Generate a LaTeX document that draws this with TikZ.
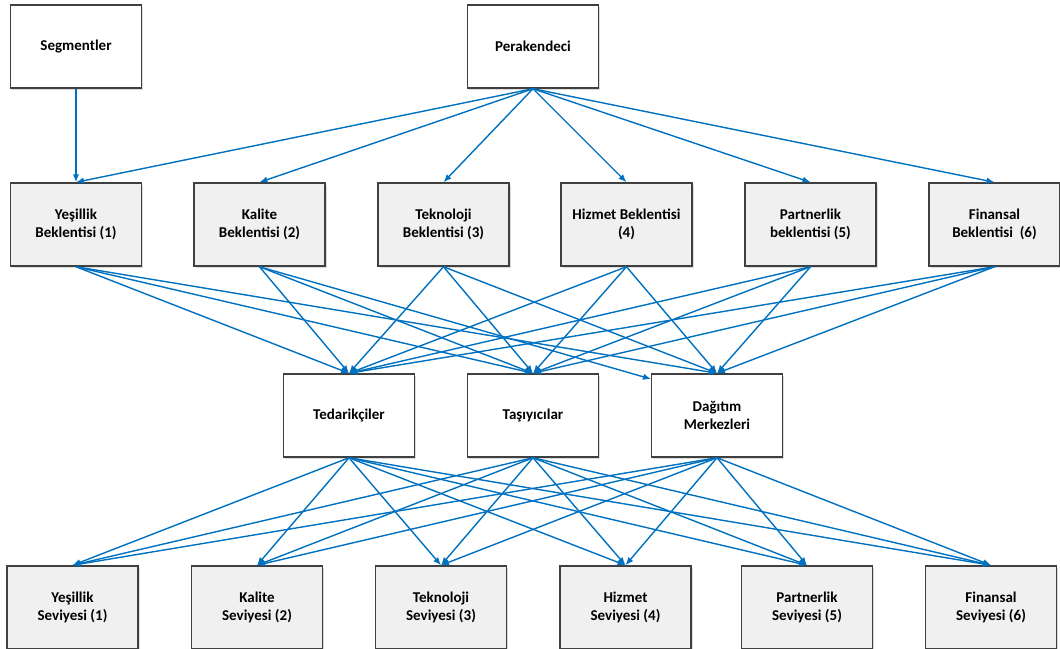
\documentclass[tikz,border=0pt]{standalone}
\usepackage{fontspec}
\setmainfont{Carlito}
\usetikzlibrary{arrows.meta,shadows}
\definecolor{arrowblue}{HTML}{0070C0}
\definecolor{boxgray}{HTML}{F0F0F0}
\definecolor{edgegray}{HTML}{404040}
\begin{document}
\begin{tikzpicture}[x=1pt,y=-1pt,
  box/.style={draw=edgegray,line width=1.5pt,minimum width=131pt,minimum height=83pt,
    align=center,font=\fontsize{15}{18.5}\selectfont\bfseries,inner sep=2pt,
    drop shadow={shadow xshift=1.5pt,shadow yshift=-1.5pt,fill=black!40,opacity=0.35}},
  wbox/.style={box,fill=white},
  gbox/.style={box,fill=boxgray},
  conn/.style={draw=arrowblue,line width=1.4pt,-{Latex[length=8pt,width=6.5pt]}}]
\useasboundingbox (0,0) rectangle (1060,648);
% row 1
\node[wbox] (seg) at (76,46.5) {Segmentler};
\node[wbox] (per) at (533,46.5) {Perakendeci};
% row 2
\node[gbox] (b1) at (76,224.5) {Yeşillik\\Beklentisi (1)};
\node[gbox] (b2) at (259.5,224.5) {Kalite\\Beklentisi (2)};
\node[gbox] (b3) at (443.5,224.5) {Teknoloji\\Beklentisi (3)};
\node[gbox] (b4) at (626.5,224.5) {Hizmet Beklentisi\\(4)};
\node[gbox] (b5) at (810.5,224.5) {Partnerlik\\beklentisi (5)};
\node[gbox] (b6) at (994.5,224.5) {Finansal\\Beklentisi~~(6)};
% row 3
\node[wbox] (ted) at (349,415.5) {Tedarikçiler};
\node[wbox] (tas) at (533,415.5) {Taşıyıcılar};
\node[wbox] (dag) at (717,415.5) {Dağıtım\\Merkezleri};
% row 4
\node[gbox] (s1) at (72.5,607.5) {Yeşillik\\Seviyesi (1)};
\node[gbox] (s2) at (257,607.5) {Kalite\\Seviyesi (2)};
\node[gbox] (s3) at (441,607.5) {Teknoloji\\Seviyesi (3)};
\node[gbox] (s4) at (625.5,607.5) {Hizmet\\Seviyesi (4)};
\node[gbox] (s5) at (807,607.5) {Partnerlik\\Seviyesi (5)};
\node[gbox] (s6) at (991,607.5) {Finansal\\Seviyesi (6)};
\coordinate (dagcorner) at (651,379);
% connectors
\draw[conn] (seg.south) -- (b1.north);
\foreach \t in {b1,b2,b3,b4,b5,b6}
  \draw[conn] (per.south) -- (\t.north);
\foreach \s in {b1,b2,b3,b4,b5,b6}
  \foreach \t in {ted,tas}
    \draw[conn] (\s.south) -- (\t.north);
\foreach \s in {b1,b3,b4,b5,b6}
  \draw[conn] (\s.south) -- (dag.north);
\draw[conn] (b2.south) -- (dagcorner);
\foreach \s in {ted,tas,dag}
  \foreach \t in {s1,s2,s3,s4,s5,s6}
    \draw[conn] (\s.south) -- (\t.north);
\end{tikzpicture}
\end{document}
